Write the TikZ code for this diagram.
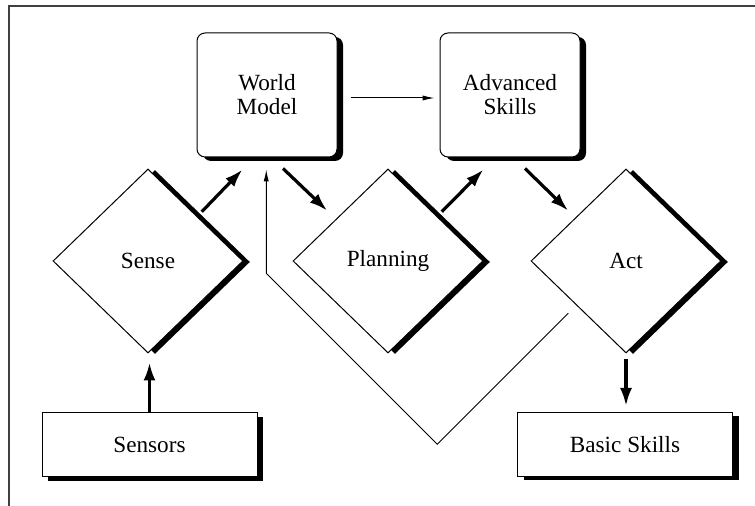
\documentclass[tikz,border=0pt]{standalone}
\usepackage{fontspec}
\setmainfont{Liberation Serif}
\usetikzlibrary{shapes.geometric,shadows,arrows.meta,calc}

\begin{document}
\begin{tikzpicture}[x=0.5pt,y=-0.5pt,line width=0.5pt,
    font=\fontsize{11.6}{12}\selectfont,
    box/.style={draw,fill=white,rectangle,minimum width=107.5pt,minimum height=32pt,inner sep=0pt,
        drop shadow={shadow xshift=3pt,shadow yshift=-2pt,fill=black,opacity=1}},
    rbox/.style={box,rounded corners=4pt,minimum width=70pt,minimum height=62pt,align=center},
    dia/.style={draw,fill=white,diamond,minimum width=95pt,minimum height=92pt,inner sep=0pt,
        drop shadow={shadow xshift=3.5pt,shadow yshift=-0.5pt,fill=black,opacity=1}},
    fat/.style={line width=1.6pt,-{Latex[length=9pt,width=6pt]}},
    slim/.style={line width=0.5pt,-{Latex[length=6pt,width=2.6pt]}}]
    \useasboundingbox (0,0) rectangle (755,506);

    % 绘制外框
    \draw[black!75,line width=0.8pt] (755,6) -- (9,6) -- (9,506);

    % 绘制上方两个圆角框
    \node[rbox] (wm) at (267,95) {World\\Model};
    \node[rbox] (adv) at (510,95) {Advanced\\Skills};

    % 绘制三个菱形
    \node[dia] (sense) at (148,261) {Sense};
    \node[dia] (plan) at (388,261) {Planning};
    \node[dia] (act) at (626,261) {Act};

    % 绘制下方两个框
    \node[box] (sensors) at (149.5,445) {Sensors};
    \node[box] (basic) at (625,444.5) {Basic Skills};

    % 绘制粗箭头
    \draw[fat] ($(sense.north east)+(6,-3)$) -- ($(wm.south west)+(46,12)$);
    \draw[fat] ($(wm.south)+(16,11)$) -- ($(plan.north west)+(-13,-4)$);
    \draw[fat] ($(plan.north east)+(6,-3)$) -- ($(adv.south west)+(44,12)$);
    \draw[fat] ($(adv.south)+(15,11)$) -- ($(act.north west)+(-10,-4)$);
    \draw[fat,shorten >=4.5pt] (sensors.north) -- (sensors.north |- sense.south);
    \draw[fat,shorten <=3pt,shorten >=3pt] (act.south) -- (act.south |- basic.north);

    % 绘制细箭头
    \draw[slim,shorten <=6.5pt,shorten >=2.5pt] ($(wm.east)+(0,3)$) -- ($(adv.west)+(0,3)$);

    % 绘制反馈线
    \coordinate (fbstart) at ($(act.south west)+(-10,6)$);
    \coordinate (fbdip) at ($(fbstart)+(-131,131)$);
    \coordinate (fbturn) at ($(fbdip)+(-171,-171)$);
    \draw[slim,shorten >=6pt] (fbstart) -- (fbdip) -- (fbturn) -- (fbturn |- wm.south);
\end{tikzpicture}
\end{document}
